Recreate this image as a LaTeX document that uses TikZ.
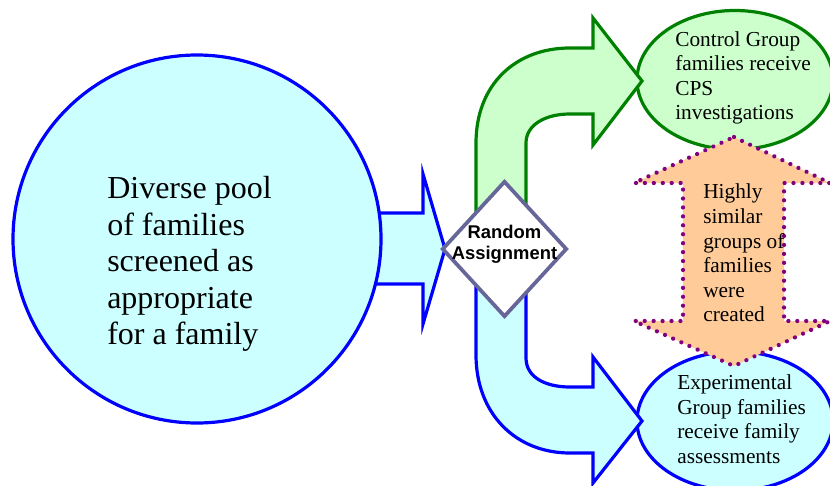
\documentclass[tikz,border=0pt]{standalone}
\usepackage{fontspec}
\setmainfont{Liberation Serif}
\newfontfamily\labelsans{Liberation Sans}
\usetikzlibrary{shapes.geometric,decorations.markings}
\definecolor{greenfill}{HTML}{CCFFCC}
\definecolor{cyanfill}{HTML}{CCFFFF}
\definecolor{pureblue}{HTML}{0000FF}
\definecolor{orangefill}{HTML}{FFCC99}
\definecolor{dotpurple}{HTML}{800080}
\definecolor{slate}{HTML}{666699}
\tikzset{
  px/.style={x=0.75pt,y=-0.75pt},
  greenshape/.style={draw=green!50!black,fill=greenfill,line width=2.4pt,miter limit=10},
  blueshape/.style={draw=pureblue,fill=cyanfill,line width=2.4pt,miter limit=10},
  dotshape/.style={draw=none,fill=orangefill},
  dotline/.style={decorate,decoration={markings,mark=between positions 0 and 1 step 6.7pt with {\fill[dotpurple] (0,0) circle (1.6pt);}}},
  oval/.style={ellipse,inner sep=0pt,minimum width=196*0.75pt,minimum height=139*0.75pt},
  bigtext/.style={anchor=west,align=left,inner sep=0pt,font=\fontsize{24}{27.4}\selectfont},
  smalltext/.style={anchor=west,align=left,inner sep=0pt,font=\fontsize{16}{18.4}\selectfont},
  decision/.style={diamond,draw=slate,fill=white,line width=2.8pt,inner sep=0pt,minimum width=125*0.75pt,minimum height=136*0.75pt,aspect=0.92},
  decisiontext/.style={align=center,inner sep=0pt,font=\labelsans\bfseries\fontsize{13.8}{15.75}\selectfont}
}
\begin{document}
\begin{tikzpicture}[px]
\useasboundingbox (0,0) rectangle (830,485);
\begin{scope}
\clip (0,0) rectangle (830,485);
% ellipses
\node[oval,blueshape] (expgroup) at (735,421) {};
\node[oval,greenshape] (ctrlgroup) at (735,80) {};
% horizontal arrow
\draw[blueshape,miter limit=20] (370,213) -- (423,213) -- (423,174) -- (445,249) -- (423,324) -- (423,284) -- (370,284) -- cycle;
% pool circle
\node[circle,blueshape,fill=cyanfill,minimum size=368*0.75pt,inner sep=0pt] (pool) at (197,239) {};
% curved arrows
\draw[greenshape] (476,240) -- (476,143) .. controls (476,85) and (515,48) .. (570,48) -- (593,48) -- (593,18) -- (642,81) -- (593,145) -- (593,114) -- (570,114) .. controls (545,114) and (526,125) .. (526,143) -- (526,240) -- cycle;
\draw[blueshape] (476,260) -- (476,355) .. controls (476,413) and (515,453) .. (570,453) -- (593,453) -- (593,483) -- (642,421) -- (593,357) -- (593,387) -- (570,387) .. controls (545,387) and (526,377) .. (526,358) -- (526,260) -- cycle;
% double arrow
\path[dotshape] (734,137) -- (830,183) -- (784,183) -- (784,321) -- (830,321) -- (734,366) -- (634,321) -- (683,321) -- (683,183) -- (634,183) -- cycle;
\path[dotline] (734,137) -- (830,183) -- (784,183) -- (784,321) -- (830,321) -- (734,366) -- (634,321) -- (683,321) -- (683,183) -- (634,183) -- cycle;
\end{scope}
% decision
\node[decision] (random) at (504.5,249) {};
% texts
\node[bigtext] (pooltext) at (107,264) {Diverse pool\\of families\\screened as\\appropriate\\for a family};
\node[decisiontext] (randomtext) at (504.5,244) {Random\\Assignment};
\node[smalltext] (ctrltext) at (675,78) {Control Group\\families receive\\CPS\\investigations};
\node[smalltext] (similartext) at (703,253) {Highly\\similar\\groups of\\families\\were\\created};
\node[smalltext] (exptext) at (677,419) {Experimental\\Group families\\receive family\\assessments};
\end{tikzpicture}
\end{document}
